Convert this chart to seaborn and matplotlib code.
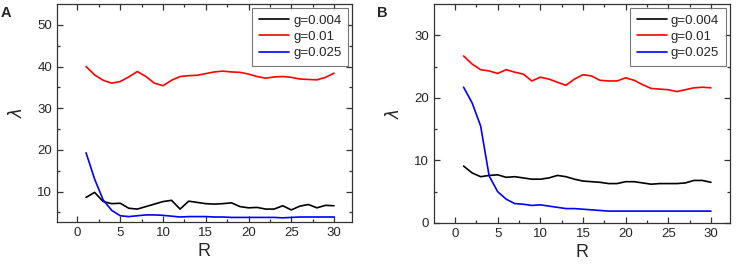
import numpy as np
import pandas as pd
import seaborn as sns
import matplotlib.pyplot as plt

R = list(range(1, 31))
series_names = ["g=0.004", "g=0.01", "g=0.025"]
colors = ["black", "red", "blue"]

# panel A
a_g004 = [8.6, 9.8, 7.6, 7.1, 7.2, 6.0, 5.8, 6.4, 7.0, 7.6, 7.9, 5.8, 7.7, 7.4, 7.1,
          7.0, 7.1, 7.3, 6.4, 6.1, 6.2, 5.8, 5.8, 6.6, 5.6, 6.5, 6.9, 6.1, 6.7, 6.6]
a_g01 = [40.0, 38.0, 36.7, 36.0, 36.4, 37.5, 38.8, 37.6, 36.0, 35.4, 36.7, 37.6, 37.8, 37.9, 38.3,
         38.7, 38.9, 38.7, 38.6, 38.2, 37.6, 37.2, 37.5, 37.6, 37.4, 37.0, 36.9, 36.8, 37.4, 38.4]
a_g025 = [19.3, 13.0, 8.0, 5.5, 4.2, 4.0, 4.2, 4.4, 4.4, 4.3, 4.1, 3.9, 4.0, 4.0, 4.0,
          3.9, 3.9, 3.8, 3.8, 3.8, 3.8, 3.8, 3.8, 3.7, 3.8, 3.9, 3.9, 3.9, 3.9, 3.9]

# panel B
b_g004 = [9.1, 8.0, 7.4, 7.6, 7.7, 7.3, 7.4, 7.2, 7.0, 7.0, 7.2, 7.6, 7.4, 7.0, 6.7,
          6.6, 6.5, 6.3, 6.3, 6.6, 6.6, 6.4, 6.2, 6.3, 6.3, 6.3, 6.4, 6.8, 6.8, 6.5]
b_g01 = [26.7, 25.4, 24.5, 24.3, 23.9, 24.5, 24.1, 23.8, 22.7, 23.3, 23.0, 22.5, 22.0, 23.0, 23.7,
         23.5, 22.8, 22.7, 22.7, 23.2, 22.8, 22.1, 21.5, 21.4, 21.3, 21.0, 21.3, 21.6, 21.7, 21.6]
b_g025 = [21.7, 19.2, 15.5, 7.5, 5.0, 3.8, 3.1, 3.0, 2.8, 2.9, 2.7, 2.5, 2.3, 2.3, 2.2,
          2.1, 2.0, 1.9, 1.9, 1.9, 1.9, 1.9, 1.9, 1.9, 1.9, 1.9, 1.9, 1.9, 1.9, 1.9]


def long_df(cols):
    parts = []
    for name, vals in zip(series_names, cols):
        parts.append(pd.DataFrame({"R": R, "lam": vals, "g": name}))
    return pd.concat(parts, ignore_index=True)


sns.set_style("ticks")
plt.rcParams["font.family"] = ["Liberation Sans", "DejaVu Sans"]

fig = plt.figure(figsize=(7.37, 2.66), dpi=100)
axA = fig.add_axes([0.0773, 0.1654, 0.4003, 0.8196])
axB = fig.add_axes([0.5885, 0.1617, 0.4016, 0.8233])

panels = [
    (axA, long_df([a_g004, a_g01, a_g025]), (2.7, 55), [10, 20, 30, 40, 50], (-2.4, 32.1), "A"),
    (axB, long_df([b_g004, b_g01, b_g025]), (0, 35), [0, 10, 20, 30], (-2.5, 32.2), "B"),
]

for ax, df, ylim, yticks, xlim, letter in panels:
    sns.lineplot(data=df, x="R", y="lam", hue="g", palette=colors, ax=ax, linewidth=1.2)
    ax.set_xlim(*xlim)
    ax.set_ylim(*ylim)
    ax.set_xticks([0, 5, 10, 15, 20, 25, 30])
    ax.set_yticks(yticks)
    ax.set_xticks(np.arange(2.5, 32, 5), minor=True)
    ax.set_yticks(np.arange(5, ylim[1], 10), minor=True)
    ax.tick_params(which="both", direction="in", top=True, right=True, labelsize=9.5,
                   width=0.9, color="#333333")
    ax.tick_params(which="major", length=4.5)
    ax.tick_params(which="minor", length=2.5)
    for s in ax.spines.values():
        s.set_linewidth(0.9)
        s.set_color("#333333")
    ax.set_xlabel("R", fontsize=13, labelpad=3)
    ax.set_ylabel(r"$\lambda$", fontsize=12, family="serif", labelpad=8)
    leg = ax.legend(loc="upper right", fontsize=9.5, frameon=True, fancybox=False,
                    handlelength=2.3, borderpad=0.5, labelspacing=0.3,
                    borderaxespad=0.3, handletextpad=0.3)
    leg.get_frame().set_edgecolor("#555555")
    leg.get_frame().set_linewidth(0.8)
    ax.text(-0.19, 0.99, letter, transform=ax.transAxes, fontsize=10.5, fontweight="bold",
            va="top", ha="left")

fig.savefig("out.png", dpi=100)
